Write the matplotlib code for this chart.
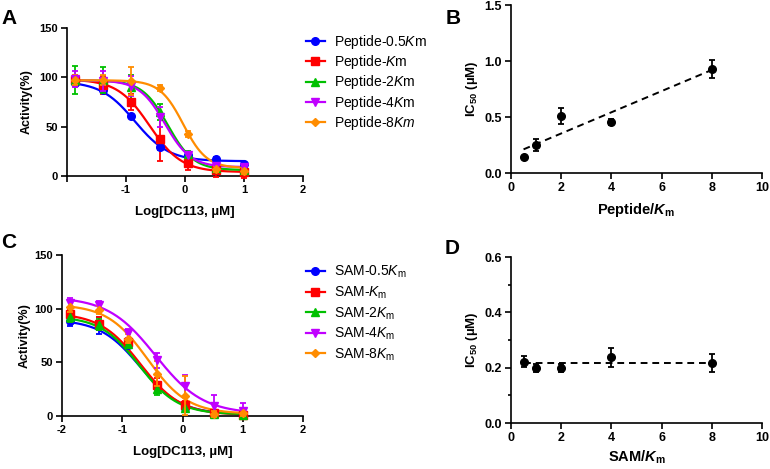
import numpy as np
import matplotlib
matplotlib.use('Agg')
import matplotlib.pyplot as plt
from matplotlib.lines import Line2D
from matplotlib.ticker import MultipleLocator

plt.rcParams['font.family'] = ['Liberation Sans', 'DejaVu Sans']
plt.rcParams['mathtext.fontset'] = 'custom'
plt.rcParams['mathtext.rm'] = 'Liberation Sans'
plt.rcParams['mathtext.it'] = 'Liberation Sans:italic'
plt.rcParams['mathtext.bf'] = 'Liberation Sans:bold'
plt.rcParams['mathtext.bfit'] = 'Liberation Sans:bold:italic'
plt.rcParams['axes.unicode_minus'] = False

# ---------------- data ----------------
log_conc = [-1.863, -1.386, -0.908, -0.431, 0.046, 0.523, 1.0]

colors = ['#0000FF', '#FF0000', '#00C000', '#C000FF', '#FF8C00']
markers = ['o', 's', '^', 'v', 'D']
msizes = [5.5, 5.5, 5.5, 5.5, 3.8]

peptide_labels = ['Peptide-0.5$\\mathit{K}$m', 'Peptide-$\\mathit{K}$m',
                  'Peptide-2$\\mathit{K}$m', 'Peptide-4$\\mathit{K}$m',
                  'Peptide-8$\\mathit{Km}$']
pep_05 = [94, 87, 61, 29.5, 21, 17.6, 12]
pep_05_err = [3, 3, 2, 3, 2, 2, 2]
pep_1 = [97, 92, 75, 38, 13, 6, 4]
pep_1_err = [5, 9, 8, 23, 7, 7, 6]
pep_2 = [97, 97, 90, 65, 22, 8, 6]
pep_2_err = [14, 13, 12, 8, 3, 3, 3]
pep_4 = [98, 96, 91, 60, 21, 10, 9]
pep_4_err = [8, 10, 10, 10, 3, 3, 3]
pep_8 = [97, 97, 96, 89, 43, 7, 5]
pep_8_err = [5, 5, 14, 3, 3, 3, 3]
pep_top = [96, 98, 97, 97, 97]
pep_bottom = [15, 4, 6, 9, 8]
pep_logic50 = [-0.85, -0.60, -0.29, -0.34, -0.03]
pep_hill = [1.5, 1.6, 2.0, 2.0, 2.2]

sam_labels = ['SAM-0.5$\\mathit{K}_\\mathrm{m}$', 'SAM-$\\mathit{K}_\\mathrm{m}$',
              'SAM-2$\\mathit{K}_\\mathrm{m}$', 'SAM-4$\\mathit{K}_\\mathrm{m}$',
              'SAM-8$\\mathit{K}_\\mathrm{m}$']
sam_05 = [88.7, 84.7, 66.6, 27.7, 7.5, 2, 2]
sam_05_err = [5, 8, 3, 3, 3, 2, 2]
sam_1 = [95, 86, 69, 29, 10, 3, 1]
sam_1_err = [4, 6, 4, 6, 4, 3, 3]
sam_2 = [92, 85, 67, 25, 7, 2, 1]
sam_2_err = [4, 5, 4, 5, 3, 2, 2]
sam_4 = [105.5, 103, 77, 52, 28, 9.3, 5]
sam_4_err = [4, 4, 4, 7, 10, 10, 7]
sam_8 = [102, 98.6, 72, 39.5, 19, 2, 3]
sam_8_err = [5, 4, 4, 12, 18, 3, 3]
sam_top = [90, 96, 93, 111, 104]
sam_bottom = [1.5, 1, 1.5, 2, 2]
sam_logic50 = [-0.70, -0.70, -0.72, -0.45, -0.58]
sam_hill = [1.3, 1.3, 1.35, 1.1, 1.3]

ratio = [0.5, 1, 2, 4, 8]
pep_ic50 = [0.14, 0.25, 0.51, 0.455, 0.93]
pep_ic50_err = [0.0, 0.05, 0.07, 0.025, 0.08]
sam_ic50 = [0.222, 0.200, 0.200, 0.237, 0.217]
sam_ic50_err = [0.02, 0.015, 0.015, 0.033, 0.033]

W, H = 770, 469
fig = plt.figure(figsize=(W / 100, H / 100), dpi=100)


def px_axes(l, t, r, b):
    return fig.add_axes([l / W, 1 - b / H, (r - l) / W, (b - t) / H])


def style(ax, tsize):
    for s in ['top', 'right']:
        ax.spines[s].set_visible(False)
    for s in ['left', 'bottom']:
        ax.spines[s].set_linewidth(1.2)
    ax.tick_params(direction='out', length=4.5, width=1.2, labelsize=tsize, pad=2)
    ax.tick_params(which='minor', direction='out', length=2.5, width=1.2)
    for lab in ax.get_xticklabels() + ax.get_yticklabels():
        lab.set_fontweight('bold')


def set_labels(ax, xl, yl, xpx, ypx, fs_x, fs_y, box):
    l, t, r, b = box
    ax.set_xlabel(xl, fontsize=fs_x, fontweight='bold')
    ax.set_ylabel(yl, fontsize=fs_y, fontweight='bold')
    ax.xaxis.set_label_coords(0.5, (b - xpx) / (b - t))
    ax.xaxis.label.set_va('center')
    ax.yaxis.set_label_coords((ypx - l) / (r - l), 0.5)
    ax.yaxis.label.set_va('center')


def logistic(x, top, bottom, logic50, hill):
    return bottom + (top - bottom) / (1 + 10 ** ((x - logic50) * hill))


def dose_panel(box, series, errs, tops, bottoms, logs, hills, labels, xticklabels,
               legend_top, lspace):
    ax = px_axes(*box)
    xfit = np.linspace(log_conc[0], log_conc[-1], 300)
    for i in reversed(range(5)):
        ax.plot(xfit, logistic(xfit, tops[i], bottoms[i], logs[i], hills[i]),
                color=colors[i], lw=1.6, zorder=2 + i * 0.1)
        ax.errorbar(log_conc, series[i], yerr=errs[i], fmt=markers[i], color=colors[i],
                    ms=msizes[i], capsize=2.5, elinewidth=1.3, capthick=1.3,
                    zorder=3 + i * 0.1, clip_on=False)
    ax.set_xlim(-2, 2)
    ax.set_ylim(0, 150)
    ax.set_xticks([-2, -1, 0, 1, 2])
    ax.set_xticklabels(xticklabels)
    ax.set_yticks([0, 50, 100, 150])
    style(ax, 8)
    handles = [Line2D([0], [0], color=colors[i], marker=markers[i], ms=msizes[i], lw=1.6)
               for i in range(5)]
    fig.legend(handles, labels, loc='upper left',
               bbox_to_anchor=(306 / W, 1 - legend_top / H), frameon=False,
               fontsize=10, borderpad=0, borderaxespad=0, handlelength=1.35,
               handletextpad=0.65, labelspacing=lspace)
    return ax


# Panel A
boxA = (67, 28, 303, 176)
axA = dose_panel(boxA, [pep_05, pep_1, pep_2, pep_4, pep_8],
                 [pep_05_err, pep_1_err, pep_2_err, pep_4_err, pep_8_err],
                 pep_top, pep_bottom, pep_logic50, pep_hill, peptide_labels,
                 ['', '-1', '0', '1', '2'], 33, 0.16)
set_labels(axA, 'Log[DC113, µM]', 'Activity(%)', 212, 27, 9.5, 9, boxA)

# Panel C
boxC = (62, 255, 303, 416)
axC = dose_panel(boxC, [sam_05, sam_1, sam_2, sam_4, sam_8],
                 [sam_05_err, sam_1_err, sam_2_err, sam_4_err, sam_8_err],
                 sam_top, sam_bottom, sam_logic50, sam_hill, sam_labels,
                 ['-2', '-1', '0', '1', '2'], 264, 0.3)
set_labels(axC, 'Log[DC113, µM]', 'Activity(%)', 452, 25, 9.5, 9, boxC)


def ic50_panel(box, y, yerr, ylim, yticks, minor, xlabel, xpx, deg):
    ax = px_axes(*box)
    ax.errorbar(ratio, y, yerr=yerr, fmt='o', color='black', ms=5.5, capsize=2.5,
                elinewidth=1.3, capthick=1.3, zorder=3, clip_on=False)
    coef = np.polyfit(ratio, y, deg)
    xl = np.array([ratio[0], ratio[-1]])
    ax.plot(xl, np.polyval(coef, xl), color='black', lw=1.4, ls=(0, (3.5, 2.5)), zorder=2)
    ax.set_xlim(0, 10)
    ax.set_ylim(*ylim)
    ax.set_xticks([0, 2, 4, 6, 8, 10])
    ax.set_yticks(yticks)
    ax.set_yticklabels([f'{v:.1f}' for v in yticks])
    if minor:
        ax.yaxis.set_minor_locator(MultipleLocator(minor))
    style(ax, 9)
    set_labels(ax, xlabel, 'IC$_\\mathbf{50}$ (µM)', xpx, 472, 10.5, 9.5, box)
    return ax


boxB = (511, 5, 762, 173)
ic50_panel(boxB, pep_ic50, pep_ic50_err, (0, 1.5), [0.0, 0.5, 1.0, 1.5], None,
           'Peptide/$\\mathbfit{K}_\\mathbf{m}$', 210, 1)
boxD = (511, 257, 762, 423)
ic50_panel(boxD, sam_ic50, sam_ic50_err, (0, 0.6), [0.0, 0.2, 0.4, 0.6], 0.1,
           'SAM/$\\mathbfit{K}_\\mathbf{m}$', 457, 0)

for letter, (x, y) in zip('ABCD', [(9, 18), (453, 18), (9, 243), (452, 248)]):
    fig.text(x / W, 1 - y / H, letter, fontsize=15, fontweight='bold', ha='center', va='center')

fig.savefig('out.png', dpi=100)
